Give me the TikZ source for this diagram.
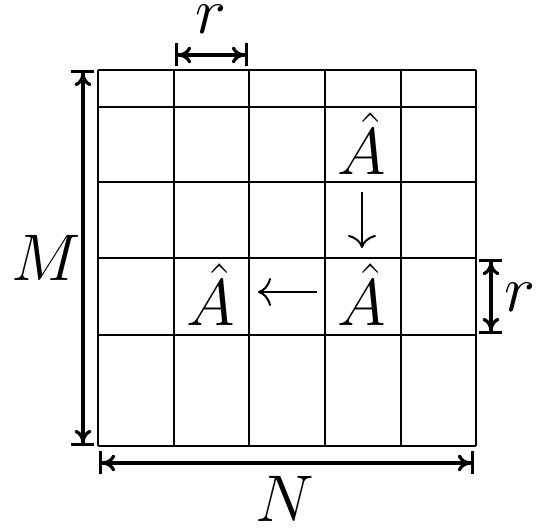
\RequirePackage{fix-cm}
\documentclass[tikz,border=0pt]{standalone}
\usetikzlibrary{arrows.meta}

\begin{document}
\begin{tikzpicture}[x=0.5pt,y=-0.5pt,
  grid/.style={line width=1pt},
  dim/.style={line width=1.6pt,{Bar[width=11.5pt]To[length=6.5pt,width=8.5pt,sep=0pt]}-{To[length=6.5pt,width=8.5pt,sep=0pt]Bar[width=11.5pt]}},
  lbl/.style={inner sep=0pt,font=\fontsize{33}{38}\selectfont},
  flow/.style={line width=1pt,-{To[length=6.5pt,width=14pt]}}]
\useasboundingbox (0,0) rectangle (554,529);
% grid
\foreach \gx in {98,174,249,325,401,476} \draw[grid] (\gx,70) -- (\gx,446);
\foreach \gy in {70,107,182,258,335,446} \draw[grid] (98,\gy) -- (476,\gy);
% block entries
\node[lbl,anchor=base] (a1) at (362,175) {$\hat{A}$};
\node[lbl,anchor=base] (a2) at (362,326) {$\hat{A}$};
\node[lbl,anchor=base] (a3) at (211,326) {$\hat{A}$};
\draw[flow] ([yshift=-8.5pt]a1.base) -- ([yshift=39pt]a2.base);
\draw[flow] ([xshift=-22.5pt,yshift=17pt]a2.base) -- ([xshift=23.5pt,yshift=17pt]a3.base);
% dimensions
\coordinate (t0) at (175,55);
\coordinate (t1) at (248,55);
\coordinate (l0) at (83,70);
\coordinate (l1) at (83,446);
\coordinate (s0) at (491,259);
\coordinate (s1) at (491,334);
\coordinate (b0) at (99,463);
\coordinate (b1) at (474,463);
\draw[dim] (t0) -- (t1);
\draw[dim] (l0) -- (l1);
\draw[dim] (s0) -- (s1);
\draw[dim] (b0) -- (b1);
\node[lbl] (rtop) at (211,19) {$r$};
\node[lbl] (mlab) at (46,258) {$M$};
\node[lbl] (rside) at (520,297) {$r$};
\node[lbl] (nlab) at (285,499) {$N$};
\end{tikzpicture}
\end{document}
